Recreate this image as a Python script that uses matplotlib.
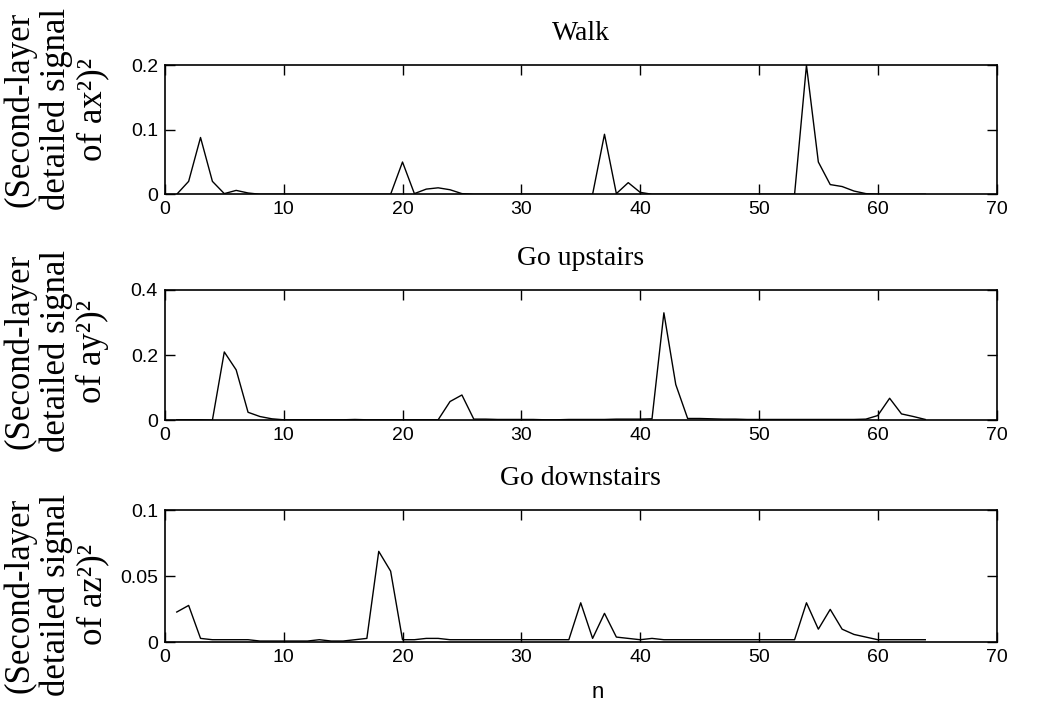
import numpy as np
import matplotlib.pyplot as plt

# Sample index n = 1..64
n = np.arange(1, 65)

# Walk: (second-layer detailed signal of ax^2)^2
walk = [0.000, 0.020, 0.088, 0.020, 0.001, 0.006, 0.002, 0.000,
        0.000, 0.000, 0.000, 0.000, 0.000, 0.000, 0.000, 0.000,
        0.000, 0.000, 0.000, 0.050, 0.001, 0.008, 0.010, 0.007,
        0.001, 0.000, 0.000, 0.000, 0.000, 0.000, 0.000, 0.000,
        0.000, 0.000, 0.000, 0.000, 0.093, 0.001, 0.018, 0.003,
        0.000, 0.000, 0.000, 0.000, 0.000, 0.000, 0.000, 0.000,
        0.000, 0.000, 0.000, 0.000, 0.000, 0.200, 0.050, 0.015,
        0.012, 0.005, 0.001, 0.000, 0.000, 0.000, 0.000, 0.000]

# Go upstairs: (second-layer detailed signal of ay^2)^2
upstairs = [0.002, 0.002, 0.002, 0.001, 0.210, 0.155, 0.025, 0.012,
            0.005, 0.002, 0.002, 0.002, 0.002, 0.002, 0.002, 0.003,
            0.002, 0.002, 0.002, 0.002, 0.002, 0.002, 0.002, 0.058,
            0.078, 0.004, 0.004, 0.003, 0.003, 0.003, 0.003, 0.002,
            0.002, 0.003, 0.003, 0.003, 0.003, 0.004, 0.004, 0.004,
            0.005, 0.330, 0.110, 0.006, 0.006, 0.005, 0.004, 0.004,
            0.003, 0.003, 0.003, 0.003, 0.003, 0.003, 0.003, 0.003,
            0.003, 0.003, 0.004, 0.015, 0.068, 0.020, 0.012, 0.003]

# Go downstairs: (second-layer detailed signal of az^2)^2
downstairs = [0.023, 0.028, 0.003, 0.002, 0.002, 0.002, 0.002, 0.001,
              0.001, 0.001, 0.001, 0.001, 0.002, 0.001, 0.001, 0.002,
              0.003, 0.069, 0.054, 0.002, 0.002, 0.003, 0.003, 0.002,
              0.002, 0.002, 0.002, 0.002, 0.002, 0.002, 0.002, 0.002,
              0.002, 0.002, 0.030, 0.003, 0.022, 0.004, 0.003, 0.002,
              0.003, 0.002, 0.002, 0.002, 0.002, 0.002, 0.002, 0.002,
              0.002, 0.002, 0.002, 0.002, 0.002, 0.030, 0.010, 0.025,
              0.010, 0.006, 0.004, 0.002, 0.002, 0.002, 0.002, 0.002]

titles = ["Walk", "Go upstairs", "Go downstairs"]
ylabels = ["(Second-layer\ndetailed signal\nof ax\u00b2)\u00b2",
           "(Second-layer\ndetailed signal\nof ay\u00b2)\u00b2",
           "(Second-layer\ndetailed signal\nof az\u00b2)\u00b2"]
yticks = [[0, 0.1, 0.2], [0, 0.2, 0.4], [0, 0.05, 0.1]]
yticklabels = [["0", "0.1", "0.2"], ["0", "0.2", "0.4"], ["0", "0.05", "0.1"]]
xticks = [0, 10, 20, 30, 40, 50, 60, 70]

series = [walk, upstairs, downstairs]

fig = plt.figure(figsize=(10.37, 7.09), dpi=100)

# axes boxes in figure fraction: left, bottom, width, height
boxes = [[0.159, 0.726, 0.802, 0.182],
         [0.159, 0.407, 0.802, 0.184],
         [0.159, 0.094, 0.802, 0.186]]
label_y = [0.66, 0.53, 0.36]

for i in range(3):
    ax = fig.add_axes(boxes[i])
    ax.plot(n, series[i], color='black', linewidth=1.0)
    ax.set_xlim(0, 70)
    ax.set_ylim(yticks[i][0], yticks[i][-1])
    ax.set_xticks(xticks)
    ax.set_xticklabels([str(t) for t in xticks], fontfamily='Liberation Sans', fontsize=14)
    ax.set_yticks(yticks[i])
    ax.set_yticklabels(yticklabels[i], fontfamily='Liberation Sans', fontsize=14)
    ax.tick_params(direction='in', length=7, width=1.0, top=True, right=True, pad=5)
    for sp in ax.spines.values():
        sp.set_linewidth(1.2)
    ax.set_title(titles[i], fontfamily='Liberation Serif', fontsize=20, pad=18)
    ax.set_ylabel(ylabels[i], fontfamily='Liberation Serif', fontsize=25,
                  linespacing=1.12, multialignment='center')
    ax.yaxis.set_label_coords(-0.067, label_y[i])
    if i == 2:
        ax.set_xlabel("n", fontfamily='Liberation Sans', fontsize=16)
        ax.xaxis.set_label_coords(0.52, -0.30)

plt.savefig("out.png", dpi=100)
